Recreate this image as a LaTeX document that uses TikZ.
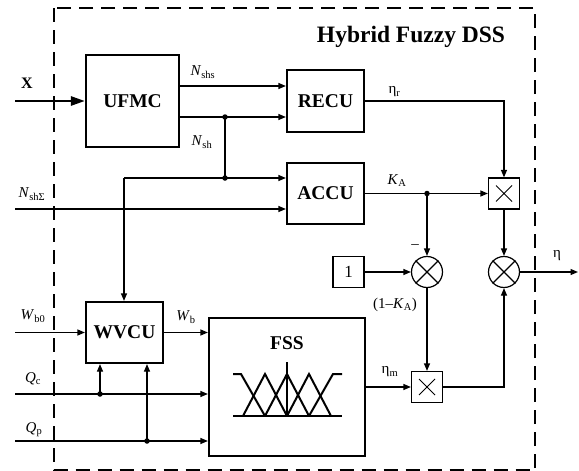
\documentclass[tikz,border=0pt]{standalone}
\usepackage{fontspec}
\setmainfont{Liberation Serif}
\usetikzlibrary{arrows.meta,calc}
\begin{document}
\begin{tikzpicture}[x=1pt,y=-1pt,
  blk/.style={draw,line width=2.2pt,inner sep=0pt,font=\fontsize{19.5}{22}\selectfont\bfseries},
  sbox/.style={draw,line width=1.2pt,inner sep=0pt,minimum size=31pt,font=\fontsize{17}{20}\selectfont},
  sumc/.style={draw,circle,line width=1.2pt,inner sep=0pt,minimum size=31pt},
  conn/.style={line width=1.2pt},
  arr/.style={line width=1.2pt,-{Triangle[length=7.5pt,width=6pt]}},
  lbl/.style={inner sep=0pt,font=\fontsize{15}{18}\selectfont},
  dotc/.style={circle,fill,inner sep=0pt,minimum size=5.5pt},
  border/.style={line width=2.2pt,dash pattern=on 14pt off 8pt}
]
\useasboundingbox (0,0) rectangle (579,471);
\draw[border] (54,8) rectangle (535,470.5);

% blocks
\node[blk,minimum width=93pt,minimum height=92pt] (ufmc) at (132.5,101) {UFMC};
\node[blk,minimum width=77pt,minimum height=62pt] (recu) at (325.5,101) {RECU};
\node[blk,minimum width=77pt,minimum height=61pt] (accu) at (325.5,193.5) {ACCU};
\node[blk,minimum width=77pt,minimum height=61pt] (wvcu) at (124.5,332.5) {WVCU};
\node[blk,minimum width=156pt,minimum height=138pt] (fss) at (287,387) {};
\node[inner sep=0pt,font=\fontsize{19.5}{22}\selectfont\bfseries] (fsst) at (287,343) {FSS};
\node[inner sep=0pt,font=\fontsize{23.5}{28}\selectfont\bfseries] (title) at (411,37) {Hybrid Fuzzy DSS};

\node[sbox] (m1) at (504,193.5) {};
\node[sbox] (m2) at (427,387) {};
\node[sbox] (one) at (348.5,272) {1};
\node[sumc] (s1) at (427,272) {};
\node[sumc] (s2) at (504,272) {};

% crosses
\draw[conn] (s1.north west) -- (s1.south east) (s1.north east) -- (s1.south west);
\draw[conn] (s2.north west) -- (s2.south east) (s2.north east) -- (s2.south west);
\foreach \m in {m1,m2}{
  \draw[line width=1pt] ([shift={(-8pt,-8pt)}]\m.center) -- ([shift={(8pt,8pt)}]\m.center)
                        ([shift={(-8pt,8pt)}]\m.center) -- ([shift={(8pt,-8pt)}]\m.center);
}

% membership functions
\begin{scope}[shift={(287,416)},line width=2pt]
  \draw (-54,0) -- (55,0);
  \draw (-54,-42) -- (-46,-42) -- (-22,0);
  \draw (-44,0) -- (-22,-42) -- (0,0);
  \draw (-22,0) -- (0,-42) -- (22,0);
  \draw (0,0) -- (22,-42) -- (44,0);
  \draw (22,0) -- (46,-42) -- (55,-42);
  \draw (0,0) -- (0,-54);
\end{scope}

% coordinates
\coordinate (xin) at (15,101);
\coordinate (j1) at (225,117);
\coordinate (c1) at (124,178);
\coordinate (j2) at (225,178);
\coordinate (nin) at (15,209);
\coordinate (wb0) at (15,332.5);
\coordinate (qc) at (15,394);
\coordinate (dqc) at (100,394);
\coordinate (qp) at (15,441);
\coordinate (dqp) at (147,441);
\coordinate (ka) at (427,193.5);
\coordinate (out) at (578,272);

% connectors
\draw[line width=2.6pt,-{Triangle[length=14pt,width=9pt]}] (xin) -- (ufmc.west);
\draw[arr] ([yshift=15pt]ufmc.east) -- ([yshift=15pt]recu.west);
\draw[arr] ([yshift=-16pt]ufmc.east) -- ([yshift=-16pt]recu.west);
\draw[conn] (j1) -- (j2);
\draw[arr] (c1) -- ([yshift=15.5pt]accu.west);
\draw[arr] (c1) -- (c1 |- wvcu.north);
\draw[arr] (nin) -- (nin -| accu.west);
\draw[arr] (wb0) -- (wb0 -| wvcu.west);
\draw[arr] (wvcu.east) -- (wvcu.east -| fss.west);
\draw[arr] (qc) -- (qc -| fss.west);
\draw[arr] (dqc) -- (dqc |- wvcu.south);
\draw[arr] (qp) -- (qp -| fss.west);
\draw[arr] (dqp) -- (dqp |- wvcu.south);
\draw[arr] (recu.east) -| (m1.north);
\draw[arr] (accu.east) -- (m1.west);
\draw[arr] (ka) -- (s1.north);
\draw[arr] (one.east) -- (s1.west);
\draw[arr] (m1.south) -- (s2.north);
\draw[arr] (s1.south) -- (m2.north);
\draw[arr] (fss.east) -- (m2.west);
\draw[arr] (m2.east) -| (s2.south);
\draw[arr] (s2.east) -- (out);

% junction dots
\node[dotc] (dj1) at (j1) {};
\node[dotc] (dj2) at (j2) {};
\node[dotc] (dka) at (ka) {};
\node[dotc] (ddqc) at (dqc) {};
\node[dotc] (ddqp) at (dqp) {};

% labels
\node[inner sep=0pt,font=\fontsize{16}{18}\selectfont\bfseries] (lx) at (27,83) {X};
\node[lbl] (lnshs) at (203,72) {\textit{N}\textsubscript{shs}};
\node[lbl] (lnsh) at (202,142) {\textit{N}\textsubscript{sh}};
\node[lbl] (lnsig) at (32,194) {\textit{N}\textsubscript{shΣ}};
\node[lbl] (letar) at (394.5,92) {η\textsubscript{r}};
\node[lbl] (lka) at (397,181) {\textit{K}\textsubscript{A}};
\node[lbl] (lminus) at (415,247) {–};
\node[lbl] (leta) at (557,256) {η};
\node[lbl] (l1ka) at (395,305) {(1–\textit{K}\textsubscript{A})};
\node[lbl] (letam) at (390,372) {η\textsubscript{m}};
\node[lbl] (lwb0) at (33,316) {\textit{W}\textsubscript{b0}};
\node[lbl] (lwb) at (186,317) {\textit{W}\textsubscript{b}};
\node[lbl] (lqc) at (33,379) {\textit{Q}\textsubscript{c}};
\node[lbl] (lqp) at (34,430) {\textit{Q}\textsubscript{p}};
\end{tikzpicture}
\end{document}
